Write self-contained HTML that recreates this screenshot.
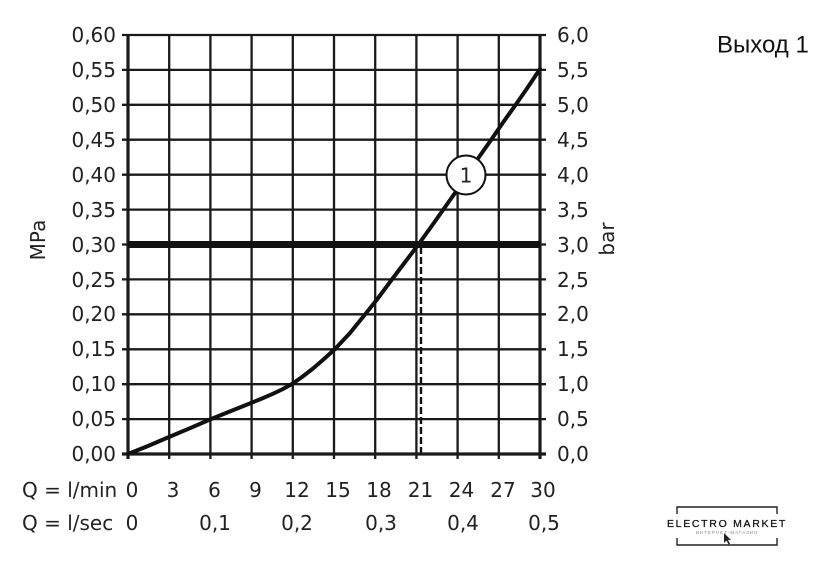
<!DOCTYPE html>
<html><head><meta charset="utf-8"><style>
html,body{margin:0;padding:0;background:#fff;}
svg{display:block;}
.t{font-family:"DejaVu Sans","Liberation Sans",sans-serif;font-size:20px;fill:#222;}
</style></head><body>
<svg width="840" height="561" viewBox="0 0 840 561" xmlns="http://www.w3.org/2000/svg">
<rect width="840" height="561" fill="#fff"/>
<g stroke="#1a1a1a" stroke-width="2.3">
<line x1="122" y1="419.1" x2="546" y2="419.1"/>
<line x1="122" y1="384.2" x2="546" y2="384.2"/>
<line x1="122" y1="349.3" x2="546" y2="349.3"/>
<line x1="122" y1="314.3" x2="546" y2="314.3"/>
<line x1="122" y1="279.4" x2="546" y2="279.4"/>
<line x1="122" y1="209.6" x2="546" y2="209.6"/>
<line x1="122" y1="174.7" x2="546" y2="174.7"/>
<line x1="122" y1="139.7" x2="546" y2="139.7"/>
<line x1="122" y1="104.8" x2="546" y2="104.8"/>
<line x1="122" y1="69.9" x2="546" y2="69.9"/>
<line x1="122" y1="35" x2="546" y2="35"/>
<line x1="122" y1="244.5" x2="546" y2="244.5"/>
<line x1="169.2" y1="35" x2="169.2" y2="459"/>
<line x1="210.4" y1="35" x2="210.4" y2="459"/>
<line x1="251.6" y1="35" x2="251.6" y2="459"/>
<line x1="292.8" y1="35" x2="292.8" y2="459"/>
<line x1="334" y1="35" x2="334" y2="459"/>
<line x1="375.2" y1="35" x2="375.2" y2="459"/>
<line x1="416.4" y1="35" x2="416.4" y2="459"/>
<line x1="457.6" y1="35" x2="457.6" y2="459"/>
<line x1="498.8" y1="35" x2="498.8" y2="459"/>
</g>
<g stroke="#1a1a1a" stroke-width="3.2">
<line x1="128" y1="34" x2="128" y2="459"/>
<line x1="540" y1="34" x2="540" y2="459"/>
<line x1="122" y1="454" x2="546" y2="454"/>
</g>
<line x1="128" y1="244.5" x2="540" y2="244.5" stroke="#111" stroke-width="7"/>
<line x1="421" y1="247" x2="421" y2="453" stroke="#111" stroke-width="2.4" stroke-dasharray="7,3"/>
<polyline fill="none" stroke="#111" stroke-width="4" stroke-linejoin="round" stroke-linecap="round"
points="128,454 148,446 169,437 190,428.2 210,419.5 231,411 251,403 262,398.5 272,394.2 282,389.5 292,384 302,377 313,368.5 324,359 335,349 350,333 365,314.5 377,299.5 390,282 404,263.5 418,245 431,227 443,210 455,193 466,176 478,158.5 491,140 503,122.5 515.5,105 528,87 540,69"/>
<circle cx="466" cy="175" r="19.5" fill="#fff" stroke="#111" stroke-width="2"/>
<text x="466" y="182.5" class="t" text-anchor="middle">1</text>
<g class="t" text-anchor="end">
<text x="116" y="42">0,60</text>
<text x="116" y="77">0,55</text>
<text x="116" y="112">0,50</text>
<text x="116" y="147">0,45</text>
<text x="116" y="182">0,40</text>
<text x="116" y="217">0,35</text>
<text x="116" y="252">0,30</text>
<text x="116" y="287">0,25</text>
<text x="116" y="321">0,20</text>
<text x="116" y="356">0,15</text>
<text x="116" y="391">0,10</text>
<text x="116" y="426">0,05</text>
<text x="116" y="461">0,00</text>
</g>
<g class="t">
<text x="557" y="42">6,0</text>
<text x="557" y="77">5,5</text>
<text x="557" y="112">5,0</text>
<text x="557" y="147">4,5</text>
<text x="557" y="182">4,0</text>
<text x="557" y="217">3,5</text>
<text x="557" y="252">3,0</text>
<text x="557" y="287">2,5</text>
<text x="557" y="321">2,0</text>
<text x="557" y="356">1,5</text>
<text x="557" y="391">1,0</text>
<text x="557" y="426">0,5</text>
<text x="557" y="461">0,0</text>
</g>
<text class="t" transform="translate(45,240) rotate(-90)" text-anchor="middle">MPa</text>
<text class="t" transform="translate(614,239) rotate(-90)" text-anchor="middle">bar</text>
<g class="t">
<text x="22" y="497">Q = l/min</text>
<text x="22" y="530">Q = l/sec</text>
</g>
<g class="t" text-anchor="middle">
<text x="132" y="497">0</text>
<text x="173" y="497">3</text>
<text x="214.5" y="497">6</text>
<text x="255.5" y="497">9</text>
<text x="297" y="497">12</text>
<text x="338" y="497">15</text>
<text x="379" y="497">18</text>
<text x="420.5" y="497">21</text>
<text x="461.5" y="497">24</text>
<text x="503" y="497">27</text>
<text x="543" y="497">30</text>
<text x="132" y="530">0</text>
<text x="215" y="530">0,1</text>
<text x="297" y="530">0,2</text>
<text x="381" y="530">0,3</text>
<text x="463" y="530">0,4</text>
<text x="544" y="530">0,5</text>
</g>
<text x="717" y="52.5" font-family="'Liberation Sans',Arial,sans-serif" font-size="24" fill="#111">Выход 1</text>
<g stroke="#222" stroke-width="1.4" fill="none">
<polyline points="677,514 677,507 777,507 777,514"/>
<polyline points="677,538 677,545 777,545 777,538"/>
</g>
<text x="727" y="527" text-anchor="middle" font-family="'Liberation Sans',sans-serif" font-size="10.5" letter-spacing="1.7" fill="#111" stroke="#111" stroke-width="0.25">ELECTRO MARKET</text>
<text x="727" y="534" text-anchor="middle" font-family="'Liberation Sans',sans-serif" font-size="4.5" letter-spacing="1" fill="#888">ИНТЕРНЕТ-МАГАЗИН</text>
<path d="M724,533 L724,543 L726.5,540.5 L728.5,544.5 L730,543.8 L728,540 L731,540 Z" fill="#222"/>
</svg>
</body></html>
